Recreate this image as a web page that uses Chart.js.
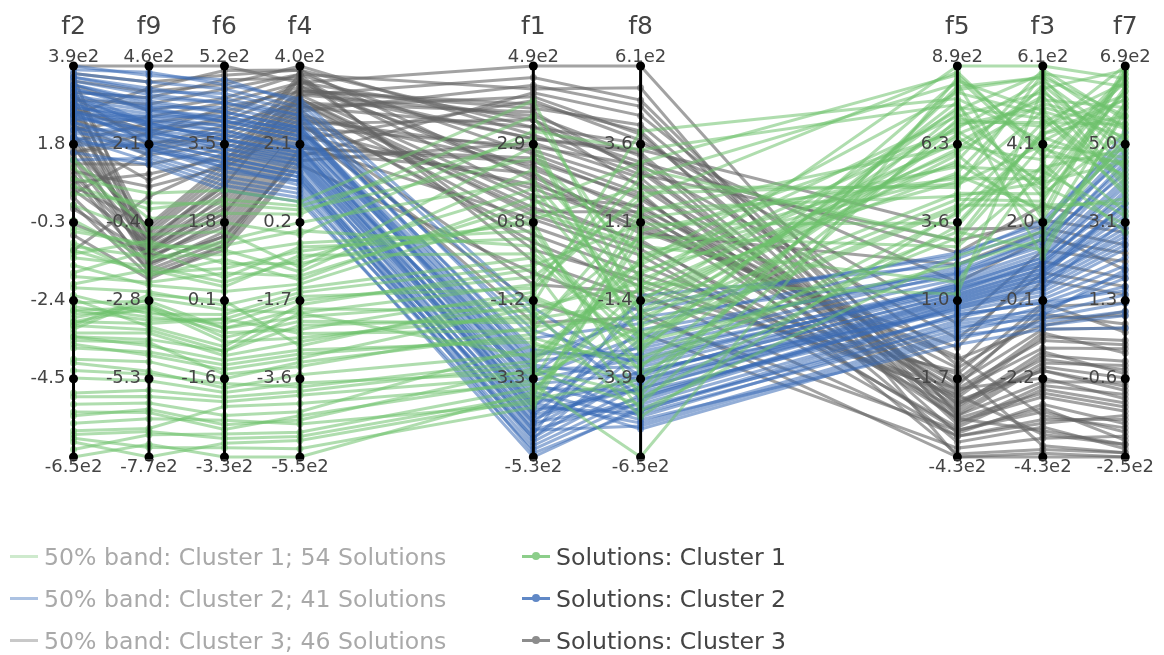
<!DOCTYPE html>
<html>
<head>
<meta charset="utf-8">
<script src="https://cdn.jsdelivr.net/npm/chart.js@4"></script>
<style>
  html, body { margin: 0; padding: 0; background: #fff; }
  #wrap { position: relative; width: 1164px; height: 655px; font-family: "DejaVu Sans", Verdana, sans-serif; }
  #chart { position: absolute; left: 0; top: 0; }
  .leg { position: absolute; height: 30px; display: flex; align-items: center; white-space: nowrap; font-size: 23.6px; }
  .sw { position: relative; width: 28px; height: 30px; margin-right: 6px; }
  .sw .ln { position: absolute; left: 0; right: 0; top: 13px; height: 3px; }
  .sw .dt { position: absolute; left: 10px; top: 10px; width: 8px; height: 8px; border-radius: 50%; }
</style>
</head>
<body>
<div id="wrap">
  <canvas id="chart" width="1164" height="655"></canvas>
</div>
<script>
// Dimensions in display order, with each axis range (values in units of 1e2)
const dimensions = ['f2', 'f9', 'f6', 'f4', 'f1', 'f8', 'f5', 'f3', 'f7'];
const axisMin = [-6.5, -7.7, -3.3, -5.5, -5.3, -6.5, -4.3, -4.3, -2.5];
const axisMax = [3.9, 4.6, 5.2, 4.0, 4.9, 6.1, 8.9, 6.1, 6.9];

// Tick labels per axis, top to bottom
const ticksF2 = ['3.9e2', '1.8', '-0.3', '-2.4', '-4.5', '-6.5e2'];
const ticksF9 = ['4.6e2', '2.1', '-0.4', '-2.8', '-5.3', '-7.7e2'];
const ticksF6 = ['5.2e2', '3.5', '1.8', '0.1', '-1.6', '-3.3e2'];
const ticksF4 = ['4.0e2', '2.1', '0.2', '-1.7', '-3.6', '-5.5e2'];
const ticksF1 = ['4.9e2', '2.9', '0.8', '-1.2', '-3.3', '-5.3e2'];
const ticksF8 = ['6.1e2', '3.6', '1.1', '-1.4', '-3.9', '-6.5e2'];
const ticksF5 = ['8.9e2', '6.3', '3.6', '1.0', '-1.7', '-4.3e2'];
const ticksF3 = ['6.1e2', '4.1', '2.0', '-0.1', '-2.2', '-4.3e2'];
const ticksF7 = ['6.9e2', '5.0', '3.1', '1.3', '-0.6', '-2.5e2'];

// Cluster 1 solutions (54)
const c1F2 = [-0.8,-2.9,-5.4,0.5,-3.3,-1.6,-6.5,-2.6,1.2,-4.0,-3.0,-0.2,-5.8,-2.2,-3.6,-1.1,0.9,-4.8,-2.8,-6.1,-1.9,-3.2,-0.5,-5.1,-2.5,1.4,-3.4,-4.4,-1.4,-6.3,-2.7,-0.9,-3.1,-5.6,0.2,-2.3,-3.9,-1.7,-4.9,-2.9,-0.4,-6.0,-3.3,-1.2,-2.6,0.7,-3.5,-5.3,-2.0,-4.2,-1.0,-3.0,-5.9,-2.4];
const c1F9 = [-2.0,-3.5,-6.2,0.3,-4.0,-1.2,-7.3,-3.0,-0.5,-5.0,-2.6,-1.5,-6.8,-3.2,-4.4,-0.9,0.6,-5.6,-2.9,-7.7,-1.8,-3.8,-1.0,-6.0,-3.3,-0.2,-4.1,-5.3,-2.3,-7.0,-3.1,-1.4,-2.7,-6.5,-0.7,-3.6,-4.7,-2.2,-5.8,-3.0,-1.1,-7.4,-4.2,-1.7,-3.4,0.1,-4.5,-6.3,-2.5,-5.1,-1.9,-3.7,-6.9,-2.8];
const c1F6 = [1.0,-0.3,-2.6,2.2,-1.0,0.6,-3.3,-0.5,1.8,-1.8,0.1,1.4,-2.2,-0.2,-1.3,0.9,2.5,-2.0,-0.7,-3.0,0.4,-1.1,1.2,-2.4,-0.4,2.0,-1.5,-1.9,0.3,-2.8,-0.6,1.1,-0.1,-2.5,1.6,-0.9,-1.6,0.7,-2.1,-0.8,1.3,-3.1,-1.2,0.5,-0.3,2.3,-1.4,-2.7,0.0,-1.7,0.8,-1.0,-2.9,-0.5];
const c1F4 = [-1.2,-2.5,-4.6,0.5,-2.0,-0.4,-5.5,-1.9,-0.1,-3.5,-2.8,0.2,-4.2,-1.5,-3.0,-0.8,0.7,-3.9,-2.2,-5.1,-0.6,-2.7,-1.0,-4.4,-1.7,0.4,-3.3,-3.7,-1.3,-4.9,-2.4,-0.3,-2.0,-4.7,-0.9,-1.8,-3.2,-1.1,-4.0,-2.6,0.0,-5.3,-2.9,-0.7,-1.6,0.6,-3.1,-4.5,-1.4,-3.8,-0.5,-2.3,-5.0,-2.1];
const c1F1 = [1.5,-2.0,-3.0,2.5,-0.8,0.4,-3.6,-1.5,3.2,-2.6,-1.1,1.9,-3.4,-0.3,-2.2,0.9,4.0,-2.9,-1.8,-3.8,0.0,-1.3,2.2,-2.4,-0.6,3.6,-1.9,-3.1,1.1,-3.5,-1.0,0.6,-2.7,-3.9,2.8,-0.4,-2.1,1.3,-3.2,-1.6,0.2,-4.0,-2.3,1.7,-0.9,3.0,-1.4,-3.3,-0.1,-2.8,0.8,-1.7,-3.7,-1.2];
const c1F8 = [-2.2,1.5,-4.5,0.0,2.8,-3.0,-1.0,-5.2,3.4,-0.5,-2.8,-1.6,-6.5,1.0,-3.6,2.2,-1.9,-0.2,0.6,-4.0,-2.5,4.0,-1.2,-3.3,1.8,-0.8,-2.0,-4.8,0.3,-1.4,2.5,-3.8,-0.6,1.2,-2.7,-5.0,-1.1,3.0,-2.3,-0.3,-3.5,0.8,-4.3,-1.8,2.0,-2.9,-0.9,1.4,-3.1,-0.1,-4.6,-1.5,0.5,-2.6];
const c1F5 = [7.0,4.5,8.2,5.6,3.0,6.6,8.9,4.0,7.6,5.0,2.2,6.1,8.5,3.6,7.3,4.8,5.9,8.0,2.8,6.9,4.2,7.8,5.3,3.3,8.7,6.3,4.6,7.1,1.6,5.7,8.3,3.9,6.8,5.1,7.5,2.5,6.0,8.6,4.4,7.2,3.1,5.5,8.1,6.5,4.9,7.7,1.2,6.2,8.4,5.2,3.5,7.4,6.7,4.1];
const c1F3 = [4.6,3.0,5.8,2.2,4.0,5.2,6.1,3.4,2.6,4.9,1.5,5.5,3.7,4.3,2.9,5.9,1.9,4.8,3.2,5.0,2.4,4.1,5.6,1.2,3.8,5.3,2.7,4.5,3.5,6.0,2.0,4.2,5.7,3.1,4.7,1.7,5.1,3.9,2.5,5.4,4.4,3.3,5.8,2.8,4.0,1.0,5.5,3.6,4.9,2.3,4.3,5.9,3.0,4.6];
const c1F7 = [5.5,6.3,4.4,6.9,3.4,5.9,6.6,4.9,6.0,3.8,5.2,6.8,4.6,5.7,3.1,6.4,5.0,4.2,6.7,5.4,3.6,6.1,4.8,5.8,6.5,4.0,5.3,6.2,2.9,5.6,6.8,4.5,5.1,6.6,3.9,6.0,5.5,4.3,6.4,5.0,6.9,3.3,5.7,6.3,4.7,5.9,4.1,6.7,5.2,3.7,6.1,5.4,4.6,6.5];

// Cluster 2 solutions (41)
const c2F2 = [3.9,3.6,3.4,3.2,3.0,2.9,2.8,2.7,2.6,2.5,3.7,3.3,2.4,2.2,2.1,3.5,3.1,2.9,2.6,2.3,2.0,1.8,3.8,3.4,2.7,2.5,1.6,3.0,2.8,3.2,2.4,1.9,3.6,2.2,1.4,3.3,2.6,2.9,3.1,2.0,2.7];
const c2F9 = [4.3,3.9,3.5,2.8,3.2,2.5,2.9,2.2,3.0,2.6,4.1,3.3,2.0,1.8,2.4,3.7,2.7,3.1,2.3,1.9,1.6,2.1,4.4,3.4,2.5,2.9,1.5,2.8,3.0,3.6,2.2,2.0,3.8,2.6,1.7,3.2,2.4,2.7,3.3,2.1,2.8];
const c2F6 = [4.9,4.5,4.2,3.8,4.0,3.5,3.9,3.2,4.1,3.6,4.7,4.3,3.0,2.8,3.4,4.4,3.7,4.0,3.3,3.1,2.6,3.0,4.8,4.2,3.5,3.8,2.5,3.6,3.9,4.4,3.2,2.9,4.6,3.4,2.7,4.1,3.3,3.7,4.0,3.1,3.6];
const c2F4 = [3.1,2.8,2.5,2.0,2.3,1.7,2.2,1.4,2.4,1.9,3.0,2.6,1.2,1.0,1.6,2.7,2.1,2.3,1.5,1.3,0.8,1.1,3.2,2.5,1.8,2.0,0.7,1.9,2.2,2.8,1.4,1.2,2.9,1.7,0.9,2.4,1.6,2.0,2.5,1.3,1.8];
const c2F1 = [-1.6,-2.6,-3.0,-3.9,-3.2,-4.4,-3.0,-4.6,-2.8,-4.1,-2.2,-3.4,-4.8,-5.0,-4.0,-2.5,-3.6,-3.8,-4.3,-4.5,-5.3,-4.7,-1.4,-3.5,-3.7,-4.2,-5.1,-3.3,-4.0,-2.0,-4.9,-4.4,-2.9,-3.9,-4.8,-3.1,-4.6,-3.4,-2.7,-5.2,-4.2];
const c2F8 = [-4.6,-3.2,-5.2,-4.0,-2.6,-4.8,-3.6,-5.5,-3.0,-4.3,-2.2,-5.0,-3.8,-4.5,-1.8,-3.4,-5.3,-2.9,-4.1,-3.7,-4.9,-1.3,-3.9,-4.4,-5.6,-2.4,-4.7,-3.3,-5.1,-3.5,-4.2,-2.7,-4.0,-5.4,-3.1,-1.6,-4.6,-3.8,-2.0,-5.0,-4.3];
const c2F5 = [0.8,1.5,0.2,1.1,2.0,0.5,1.3,-0.2,1.7,0.9,2.4,0.3,1.2,0.7,2.6,1.4,-0.5,1.9,1.0,0.6,0.1,2.2,1.6,0.4,-0.3,1.8,0.8,1.3,0.0,1.5,1.1,2.1,0.7,-0.1,1.4,2.5,0.9,1.2,1.9,0.5,1.0];
const c2F3 = [0.2,1.0,-0.5,0.6,1.5,-0.2,0.8,-0.8,1.2,0.4,1.8,-0.4,0.7,0.1,1.9,0.9,-0.9,1.3,0.5,0.0,-0.6,1.6,1.1,-0.1,-0.7,1.4,0.3,0.9,-0.3,1.0,0.6,1.7,0.2,-0.5,0.8,2.0,0.4,0.7,1.5,-0.2,0.5];
const c2F7 = [3.2,4.1,2.0,3.6,4.8,1.5,3.9,0.9,4.4,2.8,5.3,1.8,3.4,2.5,5.0,3.7,0.6,4.6,3.0,2.3,1.2,4.9,4.2,2.1,1.0,4.5,2.7,3.8,1.6,4.0,3.3,4.7,2.6,1.4,3.5,5.1,2.9,3.1,4.3,1.9,3.6];

// Cluster 3 solutions (46)
const c3F2 = [3.6,2.9,1.8,1.2,0.6,2.4,3.1,0.2,1.5,2.1,0.9,-0.3,1.7,2.6,0.4,3.3,1.0,-0.6,2.0,1.4,0.7,2.8,1.9,0.1,3.9,3.5,2.2,1.6,2.7,3.0,1.3,2.5,3.7,0.8,1.9,2.3,3.2,1.1,2.8,0.5,3.4,2.0,1.6,-1.0,2.6,3.1];
const c3F9 = [-1.2,-0.8,-1.6,-1.9,-1.0,-0.6,-1.4,-2.0,-1.1,-0.9,-1.7,-1.3,-0.5,-1.5,-1.8,-0.7,-1.2,-2.1,-1.0,-1.4,-0.4,-1.6,-0.9,-1.3,4.6,3.8,3.0,2.2,2.6,3.4,1.5,2.0,4.1,1.2,2.8,1.8,3.6,0.8,2.4,1.9,3.2,1.0,2.5,0.5,3.9,2.1];
const c3F6 = [2.0,2.6,1.5,1.3,2.3,2.9,1.8,1.2,2.1,2.7,1.6,2.4,3.0,1.9,1.4,2.8,2.2,1.3,2.5,1.7,3.1,1.5,2.6,2.0,5.2,4.8,4.4,3.6,4.0,4.7,3.4,3.8,5.0,3.2,4.2,3.5,4.9,3.0,4.1,3.7,4.5,3.3,4.3,3.1,5.1,3.9];
const c3F4 = [2.6,3.2,1.8,2.0,2.9,3.5,2.3,1.6,2.7,3.3,2.1,3.0,3.7,2.4,1.9,3.4,2.8,1.7,3.1,2.2,3.8,2.0,3.3,2.5,3.6,4.0,3.6,3.1,3.4,3.8,2.9,3.3,3.9,2.7,3.5,3.0,3.7,2.5,3.6,3.2,3.8,2.8,3.4,2.6,3.9,3.1];
const c3F1 = [3.5,1.2,4.2,2.4,0.3,3.0,1.8,-0.5,2.7,4.6,0.9,3.3,1.5,-1.3,2.1,3.9,0.5,2.9,1.1,4.0,-0.2,2.5,3.6,1.7,4.9,3.1,2.0,0.7,3.8,2.6,4.4,1.4,3.3,-1.8,2.2,4.1,0.1,2.8,3.5,1.0,4.3,2.3,3.0,-0.8,1.9,3.7];
const c3F8 = [2.8,0.5,4.5,1.9,-1.0,3.4,1.2,-1.8,2.3,5.0,0.0,3.0,1.6,-2.5,0.8,4.0,-0.6,2.5,1.4,3.7,-1.4,1.8,3.2,0.9,6.1,2.6,1.0,-0.3,4.2,2.0,4.8,0.4,3.6,-2.0,1.5,3.9,-0.8,2.9,2.2,0.2,5.4,1.3,3.3,-1.2,0.7,2.7];
const c3F5 = [-2.5,-3.4,-1.2,-3.0,-2.0,3.4,-3.0,-4.3,-1.7,-2.8,-3.6,2.6,-2.2,-4.0,-0.6,-3.2,-1.5,-3.8,-2.6,0.2,-1.4,-2.0,-3.5,-1.0,-2.9,3.0,-0.9,-2.3,-1.9,-4.2,-3.1,-2.7,1.6,-3.4,-1.3,-2.4,-2.2,-0.3,-2.1,-3.3,-4.3,-1.8,-2.9,-3.6,2.2,-2.5];
const c3F3 = [-2.0,-3.1,0.4,-3.6,-1.2,1.8,-2.6,-4.3,-0.5,-1.8,-3.3,2.4,-1.0,-3.8,0.9,-2.4,-0.2,-3.5,-1.5,1.2,-4.0,-2.2,-2.9,-0.8,-1.9,2.0,-3.2,-1.1,-0.3,-4.1,-2.7,-1.6,1.5,-3.0,-0.6,-2.0,-3.7,0.6,-1.4,-2.5,-4.2,-0.9,-2.3,-3.4,1.7,-1.7];
const c3F7 = [-0.8,-1.9,1.4,-2.2,0.2,2.6,-1.3,-2.5,0.7,-0.3,-1.6,3.0,0.0,-2.0,1.8,-1.0,0.5,-2.3,-0.5,2.2,-2.4,-1.1,-1.7,1.0,-0.6,2.9,-1.8,0.3,1.2,-2.4,-1.4,-0.2,2.4,-2.1,0.9,-0.9,-2.2,1.6,0.1,-1.2,-2.5,0.6,-0.7,-1.5,2.0,-0.4];

// Legend texts
const bandLabels = ['50% band: Cluster 1; 54 Solutions', '50% band: Cluster 2; 41 Solutions', '50% band: Cluster 3; 46 Solutions'];
const solutionLabels = ['Solutions: Cluster 1', 'Solutions: Cluster 2', 'Solutions: Cluster 3'];

// ---- layout & styling ----
const axisPositions = [70, 146, 222, 298, 533, 641, 960, 1046, 1129]; // horizontal slot of each axis
const tickLabelSets = [ticksF2, ticksF9, ticksF6, ticksF4, ticksF1, ticksF8, ticksF5, ticksF3, ticksF7];
const clusterColumns = [
  [c1F2, c1F9, c1F6, c1F4, c1F1, c1F8, c1F5, c1F3, c1F7],
  [c2F2, c2F9, c2F6, c2F4, c2F1, c2F8, c2F5, c2F3, c2F7],
  [c3F2, c3F9, c3F6, c3F4, c3F1, c3F8, c3F5, c3F3, c3F7]
];
const lineColors = ['rgba(110,193,108,0.55)', 'rgba(58,108,182,0.55)', 'rgba(100,100,100,0.6)'];
const legendSolidColors = ['rgb(140,206,138)', 'rgb(96,136,198)', 'rgb(140,140,140)'];
const bandColors = ['rgb(206,234,205)', 'rgb(172,194,226)', 'rgb(200,200,200)'];
const FONT = '"DejaVu Sans", Verdana, sans-serif';
const TEXT = '#444';

const datasets = [];
clusterColumns.forEach((cols, c) => {
  const n = cols[0].length;
  for (let i = 0; i < n; i++) {
    datasets.push({
      label: solutionLabels[c],
      data: dimensions.map((d, k) => ({
        x: axisPositions[k],
        y: (cols[k][i] - axisMin[k]) / (axisMax[k] - axisMin[k])
      })),
      showLine: true,
      borderColor: lineColors[c],
      backgroundColor: lineColors[c],
      pointBackgroundColor: lineColors[c],
      pointBorderWidth: 0,
      pointRadius: 3.5,
      borderWidth: 3,
      tension: 0,
      clip: false
    });
  }
});

// Draws the vertical axes, their tick dots, tick labels and titles
const parallelAxes = {
  id: 'parallelAxes',
  afterDatasetsDraw(chart) {
    const { ctx, scales: { x, y } } = chart;
    const top = y.getPixelForValue(1);
    const bottom = y.getPixelForValue(0);
    ctx.save();
    dimensions.forEach((name, k) => {
      const px = x.getPixelForValue(axisPositions[k]);
      ctx.strokeStyle = '#000';
      ctx.lineWidth = 3;
      ctx.beginPath();
      ctx.moveTo(px, top);
      ctx.lineTo(px, bottom);
      ctx.stroke();

      const labels = tickLabelSets[k];
      labels.forEach((lab, j) => {
        const t = 1 - j / (labels.length - 1);
        const py = y.getPixelForValue(t);
        ctx.fillStyle = '#000';
        ctx.beginPath();
        ctx.arc(px, py, 4.5, 0, Math.PI * 2);
        ctx.fill();

        ctx.fillStyle = TEXT;
        ctx.font = '18px ' + FONT;
        if (j === 0) {
          ctx.textAlign = 'center';
          ctx.textBaseline = 'alphabetic';
          ctx.fillText(lab, px, py - 4);
        } else if (j === labels.length - 1) {
          ctx.textAlign = 'center';
          ctx.textBaseline = 'alphabetic';
          ctx.fillText(lab, px, py + 15);
        } else {
          ctx.textAlign = 'right';
          ctx.textBaseline = 'middle';
          ctx.fillText(lab, px - 8, py);
        }
      });

      ctx.fillStyle = TEXT;
      ctx.font = '25px ' + FONT;
      ctx.textAlign = 'center';
      ctx.textBaseline = 'alphabetic';
      ctx.fillText(name, px, 34);
    });
    ctx.restore();
  }
};

new Chart(document.getElementById('chart'), {
  type: 'scatter',
  data: { datasets },
  options: {
    responsive: false,
    animation: false,
    layout: { padding: { top: 66, bottom: 198, left: 0, right: 0 } },
    plugins: { legend: { display: false }, tooltip: { enabled: false } },
    events: [],
    scales: {
      x: { type: 'linear', min: 0, max: 1164, display: false },
      y: { type: 'linear', min: 0, max: 1, display: false }
    }
  },
  plugins: [parallelAxes]
});

// Legend: hidden band entries (left column), visible solution entries (right column)
const wrap = document.getElementById('wrap');
const rowCenters = [557, 599, 641];
function addLegendItem(left, yc, label, color, withDot, textColor) {
  const item = document.createElement('div');
  item.className = 'leg';
  item.style.left = left + 'px';
  item.style.top = (yc - 15) + 'px';
  item.style.color = textColor;
  const sw = document.createElement('div');
  sw.className = 'sw';
  const ln = document.createElement('div');
  ln.className = 'ln';
  ln.style.background = color;
  sw.appendChild(ln);
  if (withDot) {
    const dt = document.createElement('div');
    dt.className = 'dt';
    dt.style.background = color;
    sw.appendChild(dt);
  }
  item.appendChild(sw);
  const tx = document.createElement('span');
  tx.textContent = label;
  item.appendChild(tx);
  wrap.appendChild(item);
}
bandLabels.forEach((lab, i) => addLegendItem(10, rowCenters[i], lab, bandColors[i], false, '#a9a9a9'));
solutionLabels.forEach((lab, i) => addLegendItem(522, rowCenters[i], lab, legendSolidColors[i], true, TEXT));
</script>
</body>
</html>
